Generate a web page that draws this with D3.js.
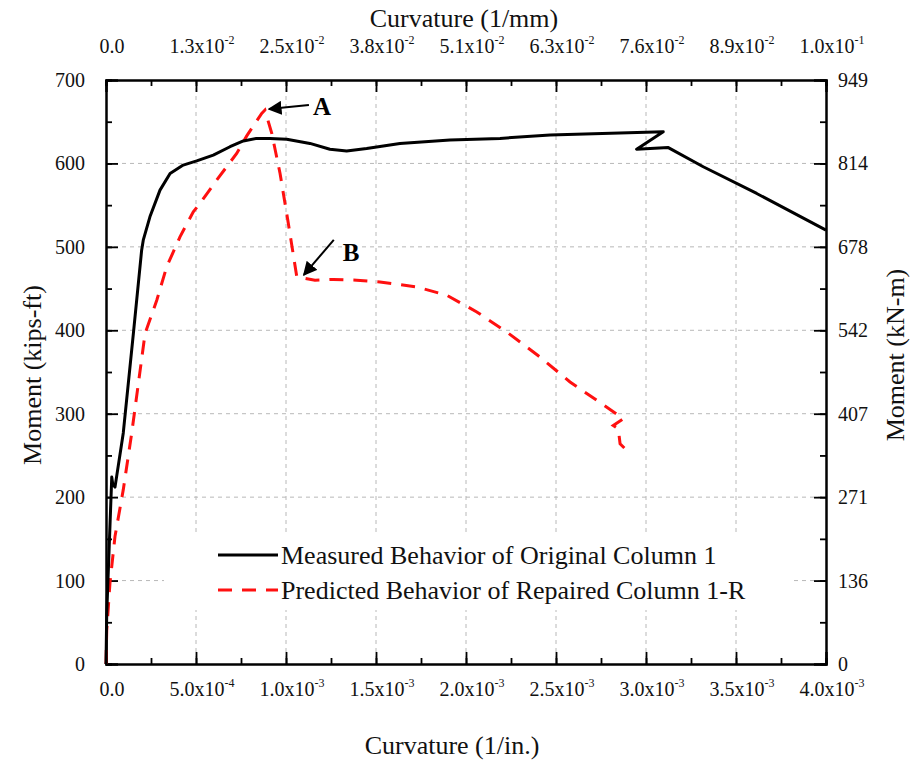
<!DOCTYPE html>
<html>
<head>
<meta charset="utf-8">
<script src="https://cdn.jsdelivr.net/npm/d3@7"></script>
<style>
  body { margin: 0; background: #fff; }
  svg { font-family: "Liberation Serif", "Times New Roman", serif; }
</style>
</head>
<body>
<svg id="chart" width="917" height="761"></svg>
<script>
// ----- data (curvature in 1/in., moment in kips-ft)
var measuredCurv = [0, 0.004e-3, 0.032e-3, 0.038e-3, 0.05e-3, 0.096e-3, 0.152e-3, 0.198e-3, 0.207e-3, 0.244e-3, 0.3e-3, 0.356e-3, 0.429e-3, 0.504e-3, 0.596e-3, 0.689e-3, 0.763e-3, 0.837e-3, 0.911e-3, 1.004e-3, 1.133e-3, 1.244e-3, 1.337e-3, 1.448e-3, 1.633e-3, 1.911e-3, 2.189e-3, 2.467e-3, 3.096e-3, 2.948e-3, 3.124e-3, 3.318e-3, 3.615e-3, 4.0e-3];
var measuredMoment = [0, 60, 224, 215, 212, 277, 396, 496, 508, 536, 568, 588, 598, 603, 610, 620, 627, 630, 630, 629, 624, 617, 615, 618, 624, 628, 630, 634, 638, 617, 619, 596, 564, 520];

var predictedCurv = [0, 0.004e-3, 0.022e-3, 0.05e-3, 0.096e-3, 0.143e-3, 0.217e-3, 0.282e-3, 0.337e-3, 0.411e-3, 0.485e-3, 0.522e-3, 0.615e-3, 0.726e-3, 0.782e-3, 0.865e-3, 0.883e-3, 0.921e-3, 0.967e-3, 1.013e-3, 1.06e-3, 1.161e-3, 1.263e-3, 1.393e-3, 1.522e-3, 1.726e-3, 1.893e-3, 2.06e-3, 2.226e-3, 2.411e-3, 2.578e-3, 2.754e-3, 2.874e-3, 2.818e-3, 2.846e-3, 2.856e-3, 2.893e-3, 2.883e-3];
var predictedMoment = [0, 40, 97, 153, 209, 277, 396, 436, 476, 512, 542, 552, 580, 612, 633, 660, 664, 636, 588, 528, 464, 460, 461, 460, 458, 452, 442, 422, 398, 368, 338, 312, 294, 286, 282, 264, 256, 250];

var xTicks = [0, 0.5e-3, 1.0e-3, 1.5e-3, 2.0e-3, 2.5e-3, 3.0e-3, 3.5e-3, 4.0e-3];
var bottomTickLabels = [["0.0", ""], ["5.0x10", "-4"], ["1.0x10", "-3"], ["1.5x10", "-3"], ["2.0x10", "-3"], ["2.5x10", "-3"], ["3.0x10", "-3"], ["3.5x10", "-3"], ["4.0x10", "-3"]];
var topTickLabels = [["0.0", ""], ["1.3x10", "-2"], ["2.5x10", "-2"], ["3.8x10", "-2"], ["5.1x10", "-2"], ["6.3x10", "-2"], ["7.6x10", "-2"], ["8.9x10", "-2"], ["1.0x10", "-1"]];
var yTicks = [0, 100, 200, 300, 400, 500, 600, 700];
var rightTickLabels = ["0", "136", "271", "407", "542", "678", "814", "949"];

var seriesNames = ["Measured Behavior of Original Column 1", "Predicted Behavior of Repaired Column 1-R"];

// ----- layout
var svg = d3.select("#chart"),
    margin = { top: 80, right: 91, bottom: 97, left: 106 },
    width = 917 - margin.left - margin.right,
    height = 761 - margin.top - margin.bottom,
    g = svg.append("g").attr("transform", "translate(" + margin.left + "," + margin.top + ")");

var x = d3.scaleLinear().domain([0, 4.0e-3]).range([0, width]);
var y = d3.scaleLinear().domain([0, 700]).range([height, 0]);

var minorX = d3.range(0, 4.0e-3 + 1e-9, 0.25e-3);
var minorY = d3.range(0, 701, 50);
var textColor = "#111";

// grid
g.append("g").selectAll("line")
    .data(xTicks.slice(1, -1))
    .enter().append("line")
    .attr("x1", function (d) { return x(d); }).attr("x2", function (d) { return x(d); })
    .attr("y1", 0).attr("y2", height)
    .attr("stroke", "#b8b8b8").attr("stroke-width", 1).attr("stroke-dasharray", "4,4");
g.append("g").selectAll("line")
    .data(yTicks.slice(1, -1))
    .enter().append("line")
    .attr("y1", function (d) { return y(d); }).attr("y2", function (d) { return y(d); })
    .attr("x1", 0).attr("x2", width)
    .attr("stroke", "#b8b8b8").attr("stroke-width", 1).attr("stroke-dasharray", "4,4");

// legend background hides grid
g.append("rect")
    .attr("x", 58).attr("y", 452).attr("width", 628).attr("height", 78)
    .attr("fill", "#fff");

// axes (ticks inward)
function tickFmt() { return ""; }
g.append("g").attr("transform", "translate(0," + height + ")")
    .call(d3.axisBottom(x).tickValues(minorX).tickSize(-6).tickFormat(tickFmt));
g.append("g").attr("transform", "translate(0," + height + ")")
    .call(d3.axisBottom(x).tickValues(xTicks).tickSize(-12).tickFormat(tickFmt));
g.append("g")
    .call(d3.axisTop(x).tickValues(minorX).tickSize(-6).tickFormat(tickFmt));
g.append("g")
    .call(d3.axisTop(x).tickValues(xTicks).tickSize(-12).tickFormat(tickFmt));
g.append("g")
    .call(d3.axisLeft(y).tickValues(minorY).tickSize(-6).tickFormat(tickFmt));
g.append("g")
    .call(d3.axisLeft(y).tickValues(yTicks).tickSize(-12).tickFormat(tickFmt));
g.append("g").attr("transform", "translate(" + width + ",0)")
    .call(d3.axisRight(y).tickValues(minorY).tickSize(-6).tickFormat(tickFmt));
g.append("g").attr("transform", "translate(" + width + ",0)")
    .call(d3.axisRight(y).tickValues(yTicks).tickSize(-12).tickFormat(tickFmt));

g.selectAll(".domain").attr("stroke", "#000").attr("stroke-width", 2);
g.selectAll(".tick line").attr("stroke", "#000").attr("stroke-width", 1.8);

// tick labels
function supLabel(sel, d) {
    sel.append("tspan").text(d[0]);
    if (d[1]) {
        sel.append("tspan").attr("dy", -9).attr("font-size", 12).text(d[1]);
    }
}
g.append("g").selectAll("text")
    .data(xTicks)
    .enter().append("text")
    .attr("x", function (d) { return x(d) + 6; })
    .attr("y", height + 32)
    .attr("text-anchor", "middle")
    .attr("font-size", 20)
    .attr("fill", textColor)
    .each(function (d, i) { supLabel(d3.select(this), bottomTickLabels[i]); });
g.append("g").selectAll("text")
    .data(xTicks)
    .enter().append("text")
    .attr("x", function (d) { return x(d) + 6; })
    .attr("y", -27)
    .attr("text-anchor", "middle")
    .attr("font-size", 20)
    .attr("fill", textColor)
    .each(function (d, i) { supLabel(d3.select(this), topTickLabels[i]); });
g.append("g").selectAll("text")
    .data(yTicks)
    .enter().append("text")
    .attr("x", -21)
    .attr("y", function (d) { return y(d) + 7; })
    .attr("text-anchor", "end")
    .attr("font-size", 20)
    .attr("fill", textColor)
    .text(function (d) { return d; });
g.append("g").selectAll("text")
    .data(yTicks)
    .enter().append("text")
    .attr("x", width + 12)
    .attr("y", function (d) { return y(d) + 7; })
    .attr("text-anchor", "start")
    .attr("font-size", 20)
    .attr("fill", textColor)
    .text(function (d, i) { return rightTickLabels[i]; });

// axis titles
svg.append("text").attr("x", 464).attr("y", 27).attr("text-anchor", "middle")
    .attr("font-size", 26).attr("fill", textColor).text("Curvature (1/mm)");
svg.append("text").attr("x", 452).attr("y", 754).attr("text-anchor", "middle")
    .attr("font-size", 26).attr("fill", textColor).text("Curvature (1/in.)");
svg.append("text").attr("transform", "translate(41,375) rotate(-90)").attr("text-anchor", "middle")
    .attr("font-size", 26).attr("fill", textColor).text("Moment (kips-ft)");
svg.append("text").attr("transform", "translate(904,355) rotate(-90)").attr("text-anchor", "middle")
    .attr("font-size", 26).attr("fill", textColor).text("Moment (kN-m)");

// curves
var line = d3.line()
    .x(function (d) { return x(d[0]); })
    .y(function (d) { return y(d[1]); });

var measured = d3.zip(measuredCurv, measuredMoment);
var predicted = d3.zip(predictedCurv, predictedMoment);

g.append("path")
    .attr("d", line(predicted))
    .attr("fill", "none")
    .attr("stroke", "#ff1010")
    .attr("stroke-width", 3)
    .attr("stroke-dasharray", "14,10");

g.append("path")
    .attr("d", line(measured))
    .attr("fill", "none")
    .attr("stroke", "#000")
    .attr("stroke-width", 3)
    .attr("stroke-linejoin", "round");

// annotations A and B
var defs = svg.append("defs");
defs.append("marker")
    .attr("id", "arrow").attr("viewBox", "0 0 10 10")
    .attr("refX", 9).attr("refY", 5)
    .attr("markerWidth", 7).attr("markerHeight", 7)
    .attr("orient", "auto")
  .append("path").attr("d", "M0,0 L10,5 L0,10 z").attr("fill", "#000");

var peakA = predicted[16], pointB = predicted[20];
g.append("line")
    .attr("x1", x(peakA[0]) + 44).attr("y1", y(peakA[1]) - 5)
    .attr("x2", x(peakA[0]) + 4).attr("y2", y(peakA[1]) - 1)
    .attr("stroke", "#000").attr("stroke-width", 2).attr("marker-end", "url(#arrow)");
g.append("text")
    .attr("x", x(peakA[0]) + 48).attr("y", y(peakA[1]) + 5)
    .attr("font-size", 25).attr("font-weight", "bold").text("A");

g.append("line")
    .attr("x1", x(pointB[0]) + 37).attr("y1", y(pointB[1]) - 37)
    .attr("x2", x(pointB[0]) + 7).attr("y2", y(pointB[1]) - 2)
    .attr("stroke", "#000").attr("stroke-width", 2).attr("marker-end", "url(#arrow)");
g.append("text")
    .attr("x", x(pointB[0]) + 46).attr("y", y(pointB[1]) - 16)
    .attr("font-size", 25).attr("font-weight", "bold").text("B");

// legend
var legend = g.append("g").attr("transform", "translate(112,475)");
legend.append("line").attr("x1", 0).attr("x2", 60).attr("y1", 0).attr("y2", 0)
    .attr("stroke", "#000").attr("stroke-width", 3);
legend.append("line").attr("x1", 0).attr("x2", 60).attr("y1", 35).attr("y2", 35)
    .attr("stroke", "#ff1010").attr("stroke-width", 3).attr("stroke-dasharray", "14,10");
legend.selectAll(".leg-text")
    .data(seriesNames)
    .enter().append("text")
    .attr("class", "leg-text")
    .attr("x", 63)
    .attr("y", function (d, i) { return i * 35 + 9; })
    .attr("font-size", 26)
    .attr("fill", textColor)
    .text(function (d) { return d; });
</script>
</body>
</html>
